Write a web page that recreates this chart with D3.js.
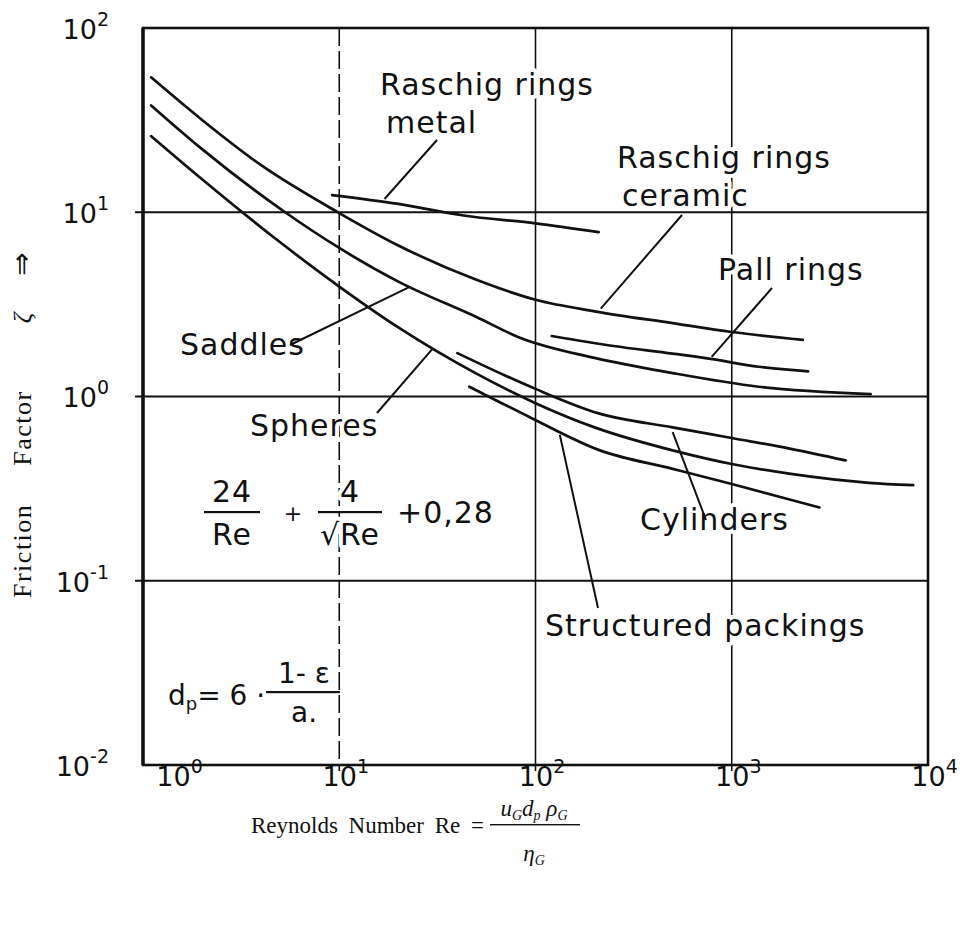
<!DOCTYPE html>
<html>
<head>
<meta charset="utf-8">
<script src="https://cdn.jsdelivr.net/npm/d3@7"></script>
<style>
  body { margin: 0; background: #fff; }
  svg text { fill: #111; }
  .lbl { font-family: "DejaVu Sans", sans-serif; font-size: 30px; letter-spacing: 1px; paint-order: stroke; stroke: #fff; stroke-width: 8px; stroke-linejoin: round; }
  .tick-lbl { font-family: "DejaVu Sans", sans-serif; font-size: 27px; }
  .serif { font-family: "Liberation Serif", "DejaVu Serif", serif; }
</style>
</head>
<body>
<svg id="chart" width="963" height="925"></svg>
<script>
// Friction factor of dry packings versus particle Reynolds number (log-log)
const raschigCeramicRe = [1.1, 2, 4, 10, 20, 50, 100, 200, 500, 1000, 2300];
const raschigCeramicF  = [54, 31.7, 18, 9.9, 6.6, 4.3, 3.35, 2.9, 2.5, 2.24, 2.03];
const saddlesRe = [1.1, 2, 5.3, 10, 20, 50, 82, 200, 500, 1370, 5100];
const saddlesF  = [38, 22, 10, 6.4, 4.2, 2.7, 2.1, 1.62, 1.34, 1.13, 1.03];
const spheresRe = [1.1, 2, 5, 10, 20, 50, 100, 200, 500, 1000, 2000, 5000, 8400];
const spheresF  = [25.9, 15.1, 6.87, 3.95, 2.37, 1.33, 0.92, 0.68, 0.51, 0.43, 0.38, 0.34, 0.33];
const raschigMetalRe = [9.2, 20, 43, 100, 210];
const raschigMetalF  = [12.4, 11.1, 9.6, 8.7, 7.8];
const pallRe = [121, 250, 500, 780, 1370, 2450];
const pallF  = [2.13, 1.88, 1.71, 1.6, 1.45, 1.37];
const cylindersRe = [40, 70, 100, 210, 500, 1000, 2000, 3800];
const cylindersF  = [1.72, 1.3, 1.1, 0.81, 0.68, 0.595, 0.52, 0.45];
const structuredRe = [46, 94, 213, 500, 1000, 2800];
const structuredF  = [1.13, 0.77, 0.51, 0.405, 0.335, 0.25];

const xTicks = [1, 10, 100, 1000, 10000];
const yTicks = [0.01, 0.1, 1, 10, 100];
const xGrid = [10, 100, 1000];
const yGrid = [0.1, 1, 10];

// leader lines: label end (pixels) -> point on curve (Re, friction factor)
const leaders = [
  { from: [437, 140], to: [17, 11.8] },     // Raschig rings metal
  { from: [682, 215], to: [215, 3.0] },     // Raschig rings ceramic
  { from: [772, 288], to: [790, 1.64] },    // Pall rings
  { from: [290, 345], to: [23, 3.95] },     // Saddles
  { from: [377, 413], to: [29.7, 1.8] },    // Spheres
  { from: [706, 520], to: [500, 0.64] },    // Cylinders
  { from: [598, 608], to: [133, 0.62] }     // Structured packings
];

const svg = d3.select("#chart");
const x = d3.scaleLog().domain([1, 1e4]).range([143, 928]);
const y = d3.scaleLog().domain([1e-2, 1e2]).range([765, 28]);

// grid lines
const grid = svg.append("g").attr("stroke", "#111").attr("fill", "none");
grid.selectAll("line.h").data(yGrid).join("line").attr("class", "h")
  .attr("x1", 135).attr("x2", x(1e4))
  .attr("y1", d => y(d)).attr("y2", d => y(d))
  .attr("stroke-width", 1.8);
grid.selectAll("line.v").data(xGrid).join("line").attr("class", "v")
  .attr("x1", d => x(d)).attr("x2", d => x(d))
  .attr("y1", y(100)).attr("y2", y(0.01) + 6)
  .attr("stroke-width", 1.6)
  .attr("stroke-dasharray", d => d === 10 ? "18 5" : null);

// frame
svg.append("rect")
  .attr("x", x(1)).attr("y", y(100))
  .attr("width", x(1e4) - x(1)).attr("height", y(0.01) - y(100))
  .attr("fill", "none").attr("stroke", "#111").attr("stroke-width", 2.6);
svg.append("line").attr("x1", x(1)).attr("x2", x(1)).attr("y1", y(100)).attr("y2", y(0.01))
  .attr("stroke", "#111").attr("stroke-width", 3.4);

// axes with power-of-ten labels
function powerLabels(sel, supDy) {
  sel.selectAll(".tick text").each(function(d) {
    const t = d3.select(this).text(null);
    t.append("tspan").text("10");
    t.append("tspan").attr("dy", supDy).attr("font-size", 19)
      .text(Math.round(Math.log10(d)));
  });
}
const xAxis = svg.append("g").attr("transform", `translate(0,${y(0.01)})`)
  .call(d3.axisBottom(x).tickValues(xTicks).tickSize(0).tickPadding(10));
xAxis.select(".domain").remove();
xAxis.selectAll(".tick text").attr("class", "tick-lbl").attr("font-size", null)
  .attr("font-family", null).attr("dy", "0.42em")
  .attr("dx", d => d === 1 ? 36 : 6);
powerLabels(xAxis, -13);

const yAxis = svg.append("g").attr("transform", `translate(${x(1)},0)`)
  .call(d3.axisLeft(y).tickValues(yTicks).tickSize(0).tickPadding(34));
yAxis.select(".domain").remove();
yAxis.selectAll(".tick text").attr("class", "tick-lbl").attr("font-size", null)
  .attr("font-family", null).attr("dy", "0.38em");
powerLabels(yAxis, -13);

// labels (white halo breaks the grid behind the lettering)
const labels = svg.append("g");
function lbl(px, py, s) { labels.append("text").attr("class", "lbl").attr("x", px).attr("y", py).text(s); }
lbl(380, 95, "Raschig rings");
lbl(386, 133, "metal");
lbl(617, 168, "Raschig rings");
lbl(622, 206, "ceramic");
lbl(718, 280, "Pall rings");
lbl(180, 355, "Saddles");
lbl(250, 436, "Spheres");
lbl(640, 530, "Cylinders");
lbl(545, 636, "Structured packings");

// sphere correlation written as a formula
const fm = svg.append("g").attr("font-family", "DejaVu Sans, sans-serif").attr("font-size", 27);
function frac(cx, yBar, num, den, w) {
  fm.append("rect").attr("x", cx - w / 2).attr("y", yBar - 1).attr("width", w).attr("height", 2.2).attr("fill", "#111");
  fm.append("text").attr("x", cx).attr("y", yBar - 10).attr("text-anchor", "middle").attr("class", "lbl").text(num);
  fm.append("text").attr("x", cx).attr("y", yBar + 33).attr("text-anchor", "middle").attr("class", "lbl").text(den);
}
frac(232, 512, "24", "Re", 56);
fm.append("text").attr("x", 293).attr("y", 521).attr("text-anchor", "middle").attr("font-size", 22).text("+");
frac(350, 512, "4", "\u221ARe", 64);
fm.append("text").attr("x", 397).attr("y", 523).attr("class", "lbl").attr("letter-spacing", 0).text("+0,28");

// hydraulic diameter definition
const dp = svg.append("g").attr("font-family", "DejaVu Sans, sans-serif").attr("font-size", 28);
const dpt = dp.append("text").attr("x", 168).attr("y", 705);
dpt.append("tspan").text("d");
dpt.append("tspan").attr("font-size", 18).attr("dy", 5).text("p");
dpt.append("tspan").attr("dy", -5).text("= 6 \u00B7");
dp.append("rect").attr("x", 266).attr("y", 691).attr("width", 74).attr("height", 2.2).attr("fill", "#111");
dp.append("text").attr("x", 304).attr("y", 683).attr("text-anchor", "middle").text("1- \u03B5");
dp.append("text").attr("x", 304).attr("y", 722).attr("text-anchor", "middle").text("a.");

// curves
const series = [
  [raschigCeramicRe, raschigCeramicF],
  [saddlesRe, saddlesF],
  [spheresRe, spheresF],
  [raschigMetalRe, raschigMetalF],
  [pallRe, pallF],
  [cylindersRe, cylindersF],
  [structuredRe, structuredF]
];
const line = d3.line().x(d => x(d[0])).y(d => y(d[1])).curve(d3.curveMonotoneX);
svg.append("g").selectAll("path").data(series).join("path")
  .attr("d", s => line(s[0].map((r, i) => [r, s[1][i]])))
  .attr("fill", "none").attr("stroke", "#111").attr("stroke-width", 2.7)
  .attr("stroke-linecap", "round").attr("stroke-linejoin", "round");

// leader lines
svg.append("g").selectAll("line").data(leaders).join("line")
  .attr("x1", d => d.from[0]).attr("y1", d => d.from[1])
  .attr("x2", d => x(d.to[0])).attr("y2", d => y(d.to[1]))
  .attr("stroke", "#111").attr("stroke-width", 2);

// axis titles
const yt = svg.append("g").attr("class", "serif").attr("font-size", 26);
yt.append("text").attr("transform", "translate(31,598) rotate(-90)")
  .attr("letter-spacing", 1.5).attr("word-spacing", 30).text("Friction Factor");
yt.append("text").attr("transform", "translate(31,318) rotate(-90)")
  .attr("font-style", "italic").attr("text-anchor", "middle").text("\u03B6");
yt.append("text").attr("transform", "translate(31,264) rotate(-90)")
  .attr("font-family", "DejaVu Sans, sans-serif").attr("font-size", 28)
  .attr("text-anchor", "middle").text("\u21D2");

const xt = svg.append("g").attr("class", "serif").attr("font-size", 23);
xt.append("text").attr("x", 484).attr("y", 833).attr("text-anchor", "end").attr("word-spacing", 5)
  .text("Reynolds Number Re =");
const num = xt.append("text").attr("x", 534).attr("y", 816).attr("text-anchor", "middle").attr("font-style", "italic");
num.append("tspan").text("u");
num.append("tspan").attr("font-size", 14).attr("dy", 4).text("G");
num.append("tspan").attr("dy", -4).text("d");
num.append("tspan").attr("font-size", 14).attr("dy", 4).text("p");
num.append("tspan").attr("dy", -4).text(" \u03C1");
num.append("tspan").attr("font-size", 14).attr("dy", 4).text("G");
xt.append("rect").attr("x", 490).attr("y", 824).attr("width", 90).attr("height", 1.4).attr("fill", "#111");
const den = xt.append("text").attr("x", 534).attr("y", 861).attr("text-anchor", "middle").attr("font-style", "italic");
den.append("tspan").text("\u03B7");
den.append("tspan").attr("font-size", 14).attr("dy", 4).text("G");
</script>
</body>
</html>
